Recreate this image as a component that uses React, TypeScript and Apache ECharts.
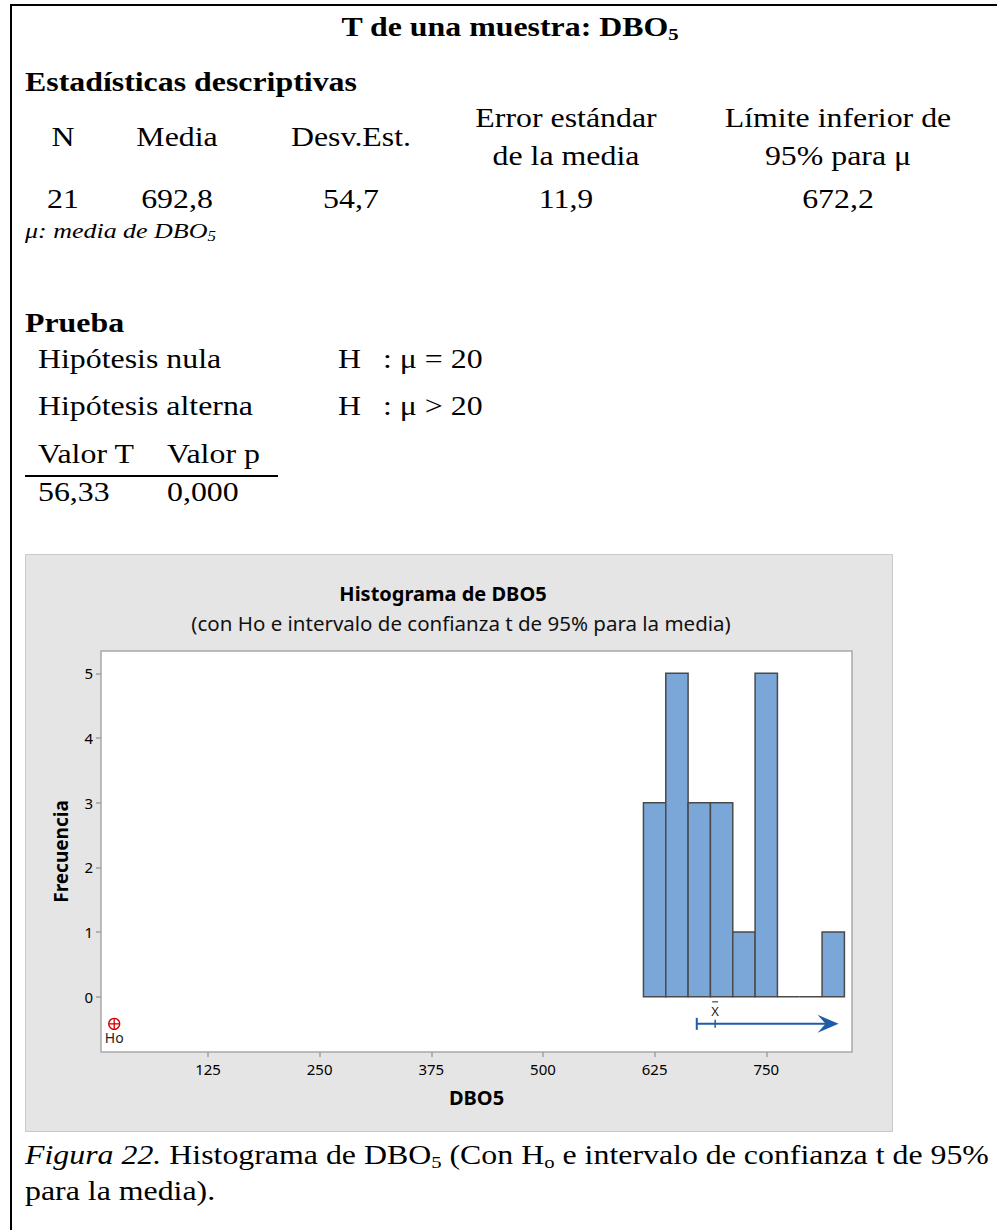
import React, { useEffect, useRef } from "react";
import * as echarts from "echarts";

// ---------- data ----------
const binLower = [612.5, 637.5, 662.5, 687.5, 712.5, 737.5, 762.5, 787.5, 812.5];
const binUpper = [637.5, 662.5, 687.5, 712.5, 737.5, 762.5, 787.5, 812.5, 837.5];
const counts = [3, 5, 3, 3, 1, 5, 0, 0, 1];
const xTicks = [125, 250, 375, 500, 625, 750];
const yTicks = [0, 1, 2, 3, 4, 5];
const xMin = 5.2;
const xMax = 846;
const yMin = -0.855;
const yMax = 5.345;
const nullMean = 20;
const ciLower = 672.2;
const sampleMean = 692.8;
const ciArrowEnd = 831;
const markerLevel = -0.42;

const statHeaders = [
  ["N"],
  ["Media"],
  ["Desv.Est."],
  ["Error estándar", "de la media"],
  ["Límite inferior de", "95% para μ"],
];
const statValues = ["21", "692,8", "54,7", "11,9", "672,2"];
const testHeaders = ["Valor T", "Valor p"];
const testValues = ["56,33", "0,000"];

// ---------- layout helpers ----------
const SERIF = '"Liberation Serif", "Times New Roman", serif';
const SANS = '"Noto Sans", "Open Sans", sans-serif';
const SX = 1.18;

type TxtProps = {
  x: number;
  y: number;
  size?: number;
  bold?: boolean;
  italic?: boolean;
  align?: "left" | "center";
  children: React.ReactNode;
};

function Txt({ x, y, size = 27, bold, italic, align = "left", children }: TxtProps) {
  const top = y - 0.8375 * size;
  return (
    <div
      style={{
        position: "absolute",
        left: x,
        top,
        fontFamily: SERIF,
        fontSize: size,
        lineHeight: `${size}px`,
        fontWeight: bold ? 700 : 400,
        fontStyle: italic ? "italic" : "normal",
        whiteSpace: "nowrap",
        color: "#000",
        transformOrigin: align === "center" ? "50% 50%" : "0 50%",
        transform: align === "center" ? `translateX(-50%) scaleX(${SX})` : `scaleX(${SX})`,
      }}
    >
      {children}
    </div>
  );
}

const Sub = ({ children }: { children: React.ReactNode }) => (
  <span style={{ fontSize: "0.65em", verticalAlign: "-0.22em" }}>{children}</span>
);

const colCenters = [63, 177, 351, 566, 838];

function buildOption(): any {
  const blue = "#1f5ca8";
  return {
    animation: false,
    backgroundColor: "#e5e5e5",
    title: [
      {
        text: "Histograma de DBO5",
        left: 413,
        top: 24,
        textAlign: "center",
        textStyle: { fontFamily: SANS, fontSize: 20, fontWeight: "bold", color: "#000" },
      },
      {
        text: "(con Ho e intervalo de confianza t de 95% para la media)",
        left: 431,
        top: 53,
        textAlign: "center",
        textStyle: { fontFamily: SANS, fontSize: 20.5, fontWeight: "normal", color: "#111" },
      },
    ],
    graphic: [
      {
        type: "rect",
        shape: { x: 0.5, y: 0.5, width: 867, height: 577 },
        style: { fill: "none", stroke: "#c9c9c9", lineWidth: 1 },
        silent: true,
      },
    ],
    grid: {
      left: 76,
      right: 41,
      top: 97,
      bottom: 80,
      show: true,
      backgroundColor: "#ffffff",
      borderColor: "#a8a8a8",
      borderWidth: 1.5,
    },
    xAxis: {
      type: "value",
      min: xMin,
      max: xMax,
      axisLine: { show: false, onZero: false },
      splitLine: { show: false },
      axisTick: { show: true, length: 5, lineStyle: { color: "#a0a0a0", width: 1.5 }, customValues: xTicks },
      axisLabel: { customValues: xTicks, fontFamily: SANS, fontSize: 15, color: "#000", margin: 9 },
      name: "DBO5",
      nameLocation: "middle",
      nameGap: 35,
      nameTextStyle: { fontFamily: SANS, fontSize: 20, fontWeight: "bold", color: "#000" },
    },
    yAxis: {
      type: "value",
      min: yMin,
      max: yMax,
      axisLine: { show: false, onZero: false },
      splitLine: { show: false },
      axisTick: { show: true, length: 5, lineStyle: { color: "#a0a0a0", width: 1.5 }, customValues: yTicks },
      axisLabel: { customValues: yTicks, fontFamily: SANS, fontSize: 15, color: "#000", margin: 8 },
      name: "Frecuencia",
      nameLocation: "middle",
      nameGap: 31,
      nameTextStyle: { fontFamily: SANS, fontSize: 19, fontWeight: "bold", color: "#000" },
    },
    series: [
      {
        type: "custom",
        data: counts.map((c, i) => [binLower[i], binUpper[i], c]),
        encode: { x: [0, 1], y: 2 },
        renderItem: (_p: any, api: any) => {
          const p0 = api.coord([api.value(0), 0]);
          const p1 = api.coord([api.value(1), api.value(2)]);
          return {
            type: "rect",
            shape: { x: p0[0], y: p1[1], width: p1[0] - p0[0], height: p0[1] - p1[1] },
            style: { fill: "#7ba7d8", stroke: "#4a4a4a", lineWidth: 1.5 },
          };
        },
      },
      {
        type: "custom",
        data: [[ciLower, sampleMean, ciArrowEnd, markerLevel]],
        encode: { x: [0, 1, 2], y: 3 },
        renderItem: (_p: any, api: any) => {
          const y = api.value(3);
          const a = api.coord([api.value(0), y]);
          const m = api.coord([api.value(1), y]);
          const e = api.coord([api.value(2), y]);
          return {
            type: "group",
            children: [
              { type: "line", shape: { x1: a[0], y1: a[1], x2: e[0] - 8, y2: e[1] }, style: { stroke: blue, lineWidth: 2 } },
              { type: "line", shape: { x1: a[0], y1: a[1] - 6, x2: a[0], y2: a[1] + 6 }, style: { stroke: blue, lineWidth: 2 } },
              { type: "line", shape: { x1: m[0], y1: m[1] - 4, x2: m[0], y2: m[1] + 4 }, style: { stroke: blue, lineWidth: 1.5 } },
              {
                type: "polygon",
                shape: { points: [[e[0], e[1]], [e[0] - 21, e[1] - 9], [e[0] - 13, e[1]], [e[0] - 21, e[1] + 9]] },
                style: { fill: blue },
              },
              {
                type: "text",
                x: m[0],
                y: m[1] - 13,
                style: { text: "X", fontFamily: SANS, fontSize: 13, fill: "#222", align: "center", verticalAlign: "middle" },
              },
              { type: "line", shape: { x1: m[0] - 3, y1: m[1] - 22, x2: m[0] + 3, y2: m[1] - 22 }, style: { stroke: "#222", lineWidth: 1 } },
            ],
          };
        },
      },
      {
        type: "custom",
        data: [[nullMean, markerLevel]],
        encode: { x: 0, y: 1 },
        renderItem: (_p: any, api: any) => {
          const p = api.coord([api.value(0), api.value(1)]);
          const r = 5.5;
          const c = "#d40000";
          return {
            type: "group",
            children: [
              { type: "circle", shape: { cx: p[0], cy: p[1], r }, style: { fill: "none", stroke: c, lineWidth: 1.3 } },
              { type: "line", shape: { x1: p[0] - r, y1: p[1], x2: p[0] + r, y2: p[1] }, style: { stroke: c, lineWidth: 1.3 } },
              { type: "line", shape: { x1: p[0], y1: p[1] - r, x2: p[0], y2: p[1] + r }, style: { stroke: c, lineWidth: 1.3 } },
              {
                type: "text",
                x: p[0],
                y: p[1] + 14,
                style: { text: "Ho", fontFamily: SANS, fontSize: 14, fill: "#222", align: "center", verticalAlign: "middle" },
              },
            ],
          };
        },
      },
    ],
  };
}

export default function App() {
  const ref = useRef<HTMLDivElement>(null);
  useEffect(() => {
    if (!ref.current) return;
    const chart = echarts.init(ref.current, null, { renderer: "svg" });
    chart.setOption(buildOption());
    return () => chart.dispose();
  }, []);

  return (
    <div style={{ position: "absolute", left: 0, top: 0, width: 997, height: 1230, background: "#fff", overflow: "hidden" }}>
      <div style={{ position: "absolute", left: 10, top: 4, width: 987, height: 2, background: "#000" }} />
      <div style={{ position: "absolute", left: 10, top: 4, width: 2, height: 1226, background: "#000" }} />

      <Txt x={510} y={37} bold align="center">
        T de una muestra: DBO<Sub>5</Sub>
      </Txt>
      <Txt x={25} y={92} bold>
        Estadísticas descriptivas
      </Txt>

      {statHeaders.map((lines, i) =>
        lines.length === 1 ? (
          <Txt key={"h" + i} x={colCenters[i]} y={147} align="center">
            {lines[0]}
          </Txt>
        ) : (
          lines.map((l, j) => (
            <Txt key={"h" + i + "_" + j} x={colCenters[i]} y={128 + j * 38} align="center">
              {l}
            </Txt>
          ))
        )
      )}
      {statValues.map((v, i) => (
        <Txt key={"v" + i} x={colCenters[i]} y={209} align="center">
          {v}
        </Txt>
      ))}
      <Txt x={25} y={238} size={22} italic>
        μ: media de DBO<Sub>5</Sub>
      </Txt>

      <Txt x={25} y={333} bold>
        Prueba
      </Txt>
      <Txt x={38} y={369}>Hipótesis nula</Txt>
      <Txt x={338} y={369}>H</Txt>
      <Txt x={383} y={369}>: μ = 20</Txt>
      <Txt x={38} y={416}>Hipótesis alterna</Txt>
      <Txt x={338} y={416}>H</Txt>
      <Txt x={383} y={416}>: μ &gt; 20</Txt>
      <Txt x={38} y={464}>{testHeaders[0]}</Txt>
      <Txt x={167} y={464}>{testHeaders[1]}</Txt>
      <div style={{ position: "absolute", left: 25, top: 475, width: 253, height: 2, background: "#000" }} />
      <Txt x={38} y={502}>{testValues[0]}</Txt>
      <Txt x={167} y={502}>{testValues[1]}</Txt>

      <div ref={ref} style={{ position: "absolute", left: 25, top: 554, width: 868, height: 578 }} />

      <Txt x={25} y={1165}>
        <i>Figura 22.</i> Histograma de DBO<Sub>5</Sub> (Con H<Sub>o</Sub> e intervalo de confianza t de 95%
      </Txt>
      <Txt x={25} y={1201}>para la media).</Txt>
    </div>
  );
}
